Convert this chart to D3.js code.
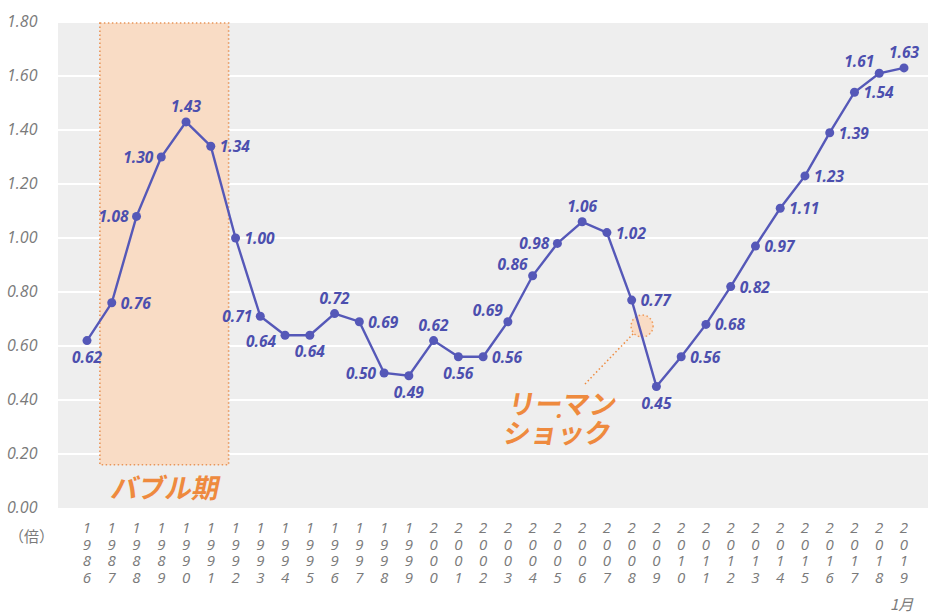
<!DOCTYPE html>
<html lang="ja">
<head>
<meta charset="UTF-8" />
<title>有効求人倍率の推移</title>
<script src="https://cdn.jsdelivr.net/npm/d3@7"></script>
<style>
  body { margin: 0; background: #fff; }
  text { font-family: "Open Sans", "Noto Sans", sans-serif; }
  .ytick text, .xtick text, .unit { fill: #7a7a7a; font-style: italic; font-size: 15px; }
  .xtick text { writing-mode: vertical-rl; text-orientation: upright; }
  .vlabel { fill: #4c4fae; font-style: italic; font-weight: bold; font-size: 15px; }
  .jp { font-family: "Noto Sans CJK JP", sans-serif; font-weight: bold; fill: #ee8a3e; }
</style>
</head>
<body>
<script>
// 年
var years = d3.range(1986, 2020);
// 倍率
var ratios = [0.62, 0.76, 1.08, 1.30, 1.43, 1.34, 1.00, 0.71, 0.64, 0.64,
              0.72, 0.69, 0.50, 0.49, 0.62, 0.56, 0.56, 0.69, 0.86, 0.98,
              1.06, 1.02, 0.77, 0.45, 0.56, 0.68, 0.82, 0.97, 1.11, 1.23,
              1.39, 1.54, 1.61, 1.63];
// where each value label sits next to its point
var labelSide = ["b", "r", "l", "l", "t", "r", "r", "l", "bl", "b",
                 "t", "r", "l", "b", "t", "b", "r", "tl", "tl", "l",
                 "t", "r", "r", "b", "r", "r", "r", "r", "r", "r",
                 "r", "r", "tl", "t"];
var yTicks = [0, 0.2, 0.4, 0.6, 0.8, 1.0, 1.2, 1.4, 1.6, 1.8];

var w = 928, h = 614;

var svg = d3.select("body").append("svg")
  .attr("width", w)
  .attr("height", h);

var x = d3.scaleLinear().domain([1986, 2019]).range([87, 904]);
var y = d3.scaleLinear().domain([0, 1.8]).range([508, 22]);

// gray plot area
svg.append("rect")
  .attr("x", 58).attr("y", y(1.8))
  .attr("width", w - 58).attr("height", y(0) - y(1.8))
  .attr("fill", "#eeeeee");

// white gridlines
svg.selectAll(".grid")
  .data(yTicks.slice(1))
  .enter().append("line")
  .attr("x1", 58).attr("x2", w)
  .attr("y1", function(d) { return y(d); })
  .attr("y2", function(d) { return y(d); })
  .attr("stroke", "#fff")
  .attr("stroke-width", 2);

// bubble period box
svg.append("rect")
  .attr("x", x(1986.52)).attr("y", y(1.8) + 1)
  .attr("width", x(1991.72) - x(1986.52))
  .attr("height", y(0.16) - y(1.8) - 1)
  .attr("fill", "#f9dcc5")
  .attr("stroke", "#e8955a")
  .attr("stroke-width", 1.6)
  .attr("stroke-dasharray", "1.5,2.5");

svg.append("text")
  .attr("class", "jp")
  .attr("x", x(1989.1)).attr("y", 498)
  .attr("text-anchor", "middle")
  .attr("font-size", 27)
  .attr("transform", "skewX(-12) translate(" + (498 * Math.tan(12 * Math.PI / 180)) + ",0)")
  .text("バブル期");

// y axis
var yAxis = svg.append("g").attr("class", "ytick");
yAxis.selectAll("text")
  .data(yTicks)
  .enter().append("text")
  .attr("x", 7)
  .attr("y", function(d) { return y(d) + 5; })
  .style("font-size", "16px")
  .text(function(d) { return d3.format(".2f")(d); });

svg.append("text")
  .attr("class", "unit")
  .attr("x", 9).attr("y", 542)
  .style("font-family", "'Noto Sans CJK JP', sans-serif")
  .style("font-style", "normal")
  .attr("font-size", 14)
  .text("（倍）");

// x axis, digits stacked top to bottom
var xAxis = svg.append("g").attr("class", "xtick");
xAxis.selectAll("text")
  .data(years)
  .enter().append("text")
  .attr("x", function(d) { return x(d); })
  .attr("y", 517)
  .style("letter-spacing", "-3.5px")
  .text(function(d) { return String(d); });

svg.append("text")
  .attr("class", "unit")
  .attr("x", 890).attr("y", 610)
  .style("font-family", "'Noto Sans CJK JP', sans-serif")
  .attr("font-size", 14)
  .text("1月");

// Lehman shock annotation
svg.append("line")
  .attr("x1", 585).attr("y1", 384)
  .attr("x2", 634).attr("y2", 333)
  .attr("stroke", "#ee8a3e")
  .attr("stroke-width", 1.5)
  .attr("stroke-dasharray", "1.5,2.5");

svg.append("circle")
  .attr("cx", x(2008.42)).attr("cy", 326)
  .attr("r", 11)
  .attr("fill", "#f9dcc5")
  .attr("stroke", "#ee9a5a")
  .attr("stroke-width", 1.5)
  .attr("stroke-dasharray", "1.5,2.5");

var skew = "skewX(-10) translate(" + (420 * Math.tan(10 * Math.PI / 180)) + ",0)";
svg.append("text")
  .attr("class", "jp")
  .attr("x", 506).attr("y", 414)
  .attr("font-size", 27)
  .attr("transform", skew)
  .text("リーマン");
svg.append("text")
  .attr("class", "jp")
  .attr("x", 550).attr("y", 422)
  .attr("font-size", 16)
  .attr("transform", skew)
  .text("・");
svg.append("text")
  .attr("class", "jp")
  .attr("x", 506).attr("y", 443)
  .attr("font-size", 27)
  .attr("transform", skew)
  .text("ショック");

// line
var line = d3.line()
  .x(function(d, i) { return x(years[i]); })
  .y(function(d) { return y(d); });

svg.append("path")
  .datum(ratios)
  .attr("d", line)
  .attr("fill", "none")
  .attr("stroke", "#5558b8")
  .attr("stroke-width", 2.4);

svg.selectAll(".pt")
  .data(ratios)
  .enter().append("circle")
  .attr("cx", function(d, i) { return x(years[i]); })
  .attr("cy", function(d) { return y(d); })
  .attr("r", 4.5)
  .attr("fill", "#5558b8");

// value labels
var off = {
  b:  [0, 22, "middle"],
  t:  [0, -10, "middle"],
  r:  [9, 6, "start"],
  l:  [-8, 6, "end"],
  bl: [-9, 12, "end"],
  tl: [-5, -6, "end"]
};
svg.selectAll(".vlabel")
  .data(ratios)
  .enter().append("text")
  .attr("class", "vlabel")
  .attr("x", function(d, i) { return x(years[i]) + off[labelSide[i]][0]; })
  .attr("y", function(d, i) { return y(d) + off[labelSide[i]][1]; })
  .attr("text-anchor", function(d, i) { return off[labelSide[i]][2]; })
  .style("font-size", "15.5px")
  .text(function(d) { return d3.format(".2f")(d); });
</script>
</body>
</html>
